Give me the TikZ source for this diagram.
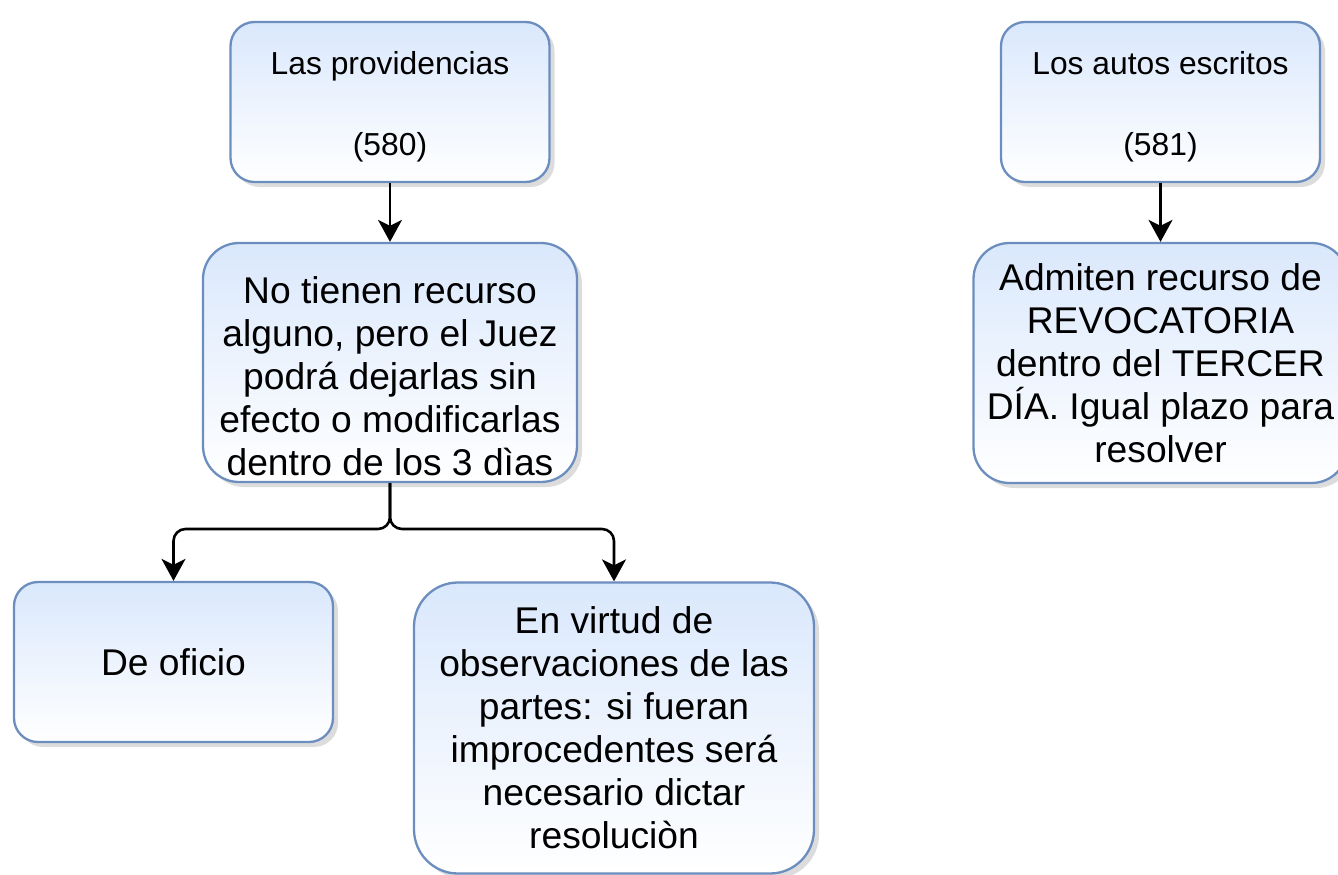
\documentclass[tikz,border=0pt]{standalone}
\usepackage{fontspec}
\setmainfont{Liberation Sans}
\usetikzlibrary{arrows.meta,shadows,calc}
\definecolor{bord}{HTML}{6C8EBF}
\definecolor{topc}{HTML}{DAE8FC}
\begin{document}
\begin{tikzpicture}[x=1pt,y=-1pt,
  box/.style={draw=bord, line width=2.3pt, top color=topc, bottom color=white,
    rounded corners=#1, align=center, inner sep=0pt,
    drop shadow={shadow xshift=5pt,shadow yshift=-5pt,fill=black!27}},
  box/.default=24pt,
  txt/.style={align=center, inner sep=0pt},
  small/.style={font=\fontsize{31.8}{40.5}\selectfont},
  big/.style={font=\fontsize{37.2}{43}\selectfont},
  arr/.style={draw=black, line width=2.6pt,
    -{Stealth[length=22pt,width=24pt,inset=6pt]}}]
\useasboundingbox (0,0) rectangle (1338,875);

\node[box=24pt, minimum width=319pt, minimum height=160pt] (A) at (390,102) {};
\node[txt, small] (At) at (390,107) {Las providencias\\ \mbox{}\\ (580)};
\node[box=24pt, minimum width=319pt, minimum height=160pt] (E) at (1160.5,102) {};
\node[txt, small] (Et) at (1160.5,107) {Los autos escritos\\ \mbox{}\\ (581)};
\node[box=36pt, minimum width=374pt, minimum height=239pt] (B) at (390,362.5) {};
\node[txt, big] (Bt) at (390,376) {No tienen recurso\\ alguno, pero el Juez\\ podrá dejarlas sin\\ efecto o modificarlas\\ dentro de los 3 dìas};
\node[box=36pt, big, minimum width=374pt, minimum height=240pt] (F) at (1160.5,363)
  {Admiten recurso de\\ REVOCATORIA\\ dentro del TERCER\\ DÍA. Igual plazo para\\ resolver};
\node[box=24pt, big, minimum width=319pt, minimum height=160pt] (C) at (173.5,662)
  {De oficio};
\node[box=44pt, big, minimum width=400pt, minimum height=291pt] (D) at (614,728)
  {En virtud de\\ observaciones de las\\ partes: si fueran\\ improcedentes será\\ necesario dictar\\ resoluciòn};

\coordinate (j) at (390,529);
\draw[arr] (A.south) -- (B.north);
\draw[arr] (E.south) -- (F.north);
\draw[arr, rounded corners=12pt] (B.south) -- (j) -| (C.north);
\draw[arr, rounded corners=12pt] (B.south) -- (j) -| (D.north);
\end{tikzpicture}
\end{document}
